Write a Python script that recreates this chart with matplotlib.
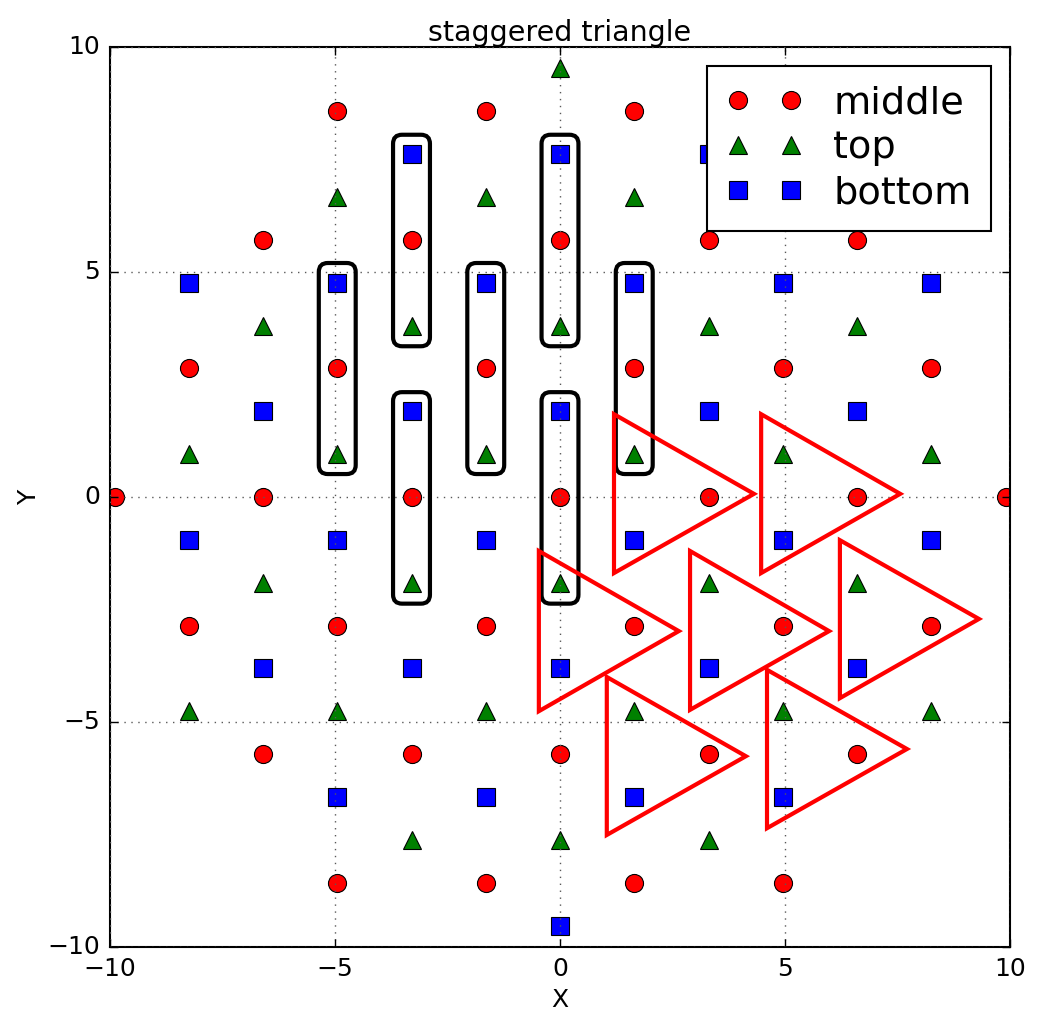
import matplotlib
matplotlib.use("Agg")
import matplotlib.pyplot as plt
from matplotlib.patches import FancyBboxPatch, Polygon

# lattice points
middle_x = [-9.9, -6.6, -3.3, 0, 3.3, 6.6, 9.9,
            -8.25, -4.95, -1.65, 1.65, 4.95, 8.25,
            -8.25, -4.95, -1.65, 1.65, 4.95, 8.25,
            -6.6, -3.3, 0, 3.3, 6.6,
            -6.6, -3.3, 0, 3.3, 6.6,
            -4.95, -1.65, 1.65, 4.95,
            -4.95, -1.65, 1.65, 4.95]
middle_y = [0] * 7 + [2.86] * 6 + [-2.86] * 6 + [5.72] * 5 + [-5.72] * 5 + [8.57] * 4 + [-8.57] * 4

top_x = [-6.6, -3.3, 0, 3.3, 6.6,
         -8.25, -4.95, -1.65, 1.65, 4.95, 8.25,
         -8.25, -4.95, -1.65, 1.65, 4.95, 8.25,
         -6.6, -3.3, 0, 3.3, 6.6,
         -3.3, 0, 3.3,
         -4.95, -1.65, 1.65, 4.95,
         0]
top_y = [-1.91] * 5 + [0.95] * 6 + [-4.76] * 6 + [3.81] * 5 + [-7.62] * 3 + [6.67] * 4 + [9.53]

bottom_x = [-6.6, -3.3, 0, 3.3, 6.6,
            -8.25, -4.95, -1.65, 1.65, 4.95, 8.25,
            -8.25, -4.95, -1.65, 1.65, 4.95, 8.25,
            -6.6, -3.3, 0, 3.3, 6.6,
            -3.3, 0, 3.3,
            -4.95, -1.65, 1.65, 4.95,
            0]
bottom_y = [1.91] * 5 + [-0.95] * 6 + [4.76] * 6 + [-3.81] * 5 + [7.62] * 3 + [-6.67] * 4 + [-9.53]

# black rounded boxes: column x, y low, y high
box_x = [-4.95, -3.3, -3.3, -1.65, 0, 0, 1.65]
box_ylo = [0.51, 3.35, -2.37, 0.51, 3.35, -2.37, 0.51]
box_yhi = [5.2, 8.05, 2.33, 5.2, 8.05, 2.33, 5.2]
box_halfw = 0.41

# red triangles: left edge x, top y, bottom y, tip x, tip y
tri_left = [1.2, 4.47, -0.47, 2.89, 6.22, 1.04, 4.6]
tri_top = [1.84, 1.84, -1.2, -1.2, -0.96, -4.0, -3.84]
tri_bot = [-1.69, -1.69, -4.76, -4.73, -4.47, -7.51, -7.36]
tri_tipx = [4.31, 7.56, 2.64, 5.98, 9.31, 4.13, 7.71]
tri_tipy = [0.07, 0.07, -2.98, -2.98, -2.71, -5.76, -5.6]

plt.style.use("classic")
plt.rcParams["font.family"] = "DejaVu Sans"
plt.rcParams["xtick.major.size"] = 6
plt.rcParams["ytick.major.size"] = 6
plt.rcParams["xtick.major.pad"] = 7
plt.rcParams["ytick.major.pad"] = 7

fig = plt.figure(figsize=(10.4, 10.27), dpi=100, facecolor="white")
ax = fig.add_axes([110 / 1040, 80 / 1027, 900 / 1040, 900 / 1027])

ms = 13
ax.plot(middle_x, middle_y, "ro", ms=ms, mew=0.8, label="middle")
ax.plot(top_x, top_y, "g^", ms=ms, mew=0.8, label="top")
ax.plot(bottom_x, bottom_y, "bs", ms=ms, mew=0.8, label="bottom")

for x, lo, hi in zip(box_x, box_ylo, box_yhi):
    ax.add_patch(FancyBboxPatch((x - box_halfw, lo), 2 * box_halfw, hi - lo,
                                boxstyle="round,pad=0,rounding_size=0.2",
                                fc="none", ec="k", lw=3, zorder=3))

for l, t, b, tx, ty in zip(tri_left, tri_top, tri_bot, tri_tipx, tri_tipy):
    ax.add_patch(Polygon([(l, t), (tx, ty), (l, b)], closed=True, fill=False,
                         ec="red", lw=3, joinstyle="miter", zorder=4))

ax.set_xlim(-10, 10)
ax.set_ylim(-10, 10)
ax.set_xticks([-10, -5, 0, 5, 10])
ax.set_yticks([-10, -5, 0, 5, 10])
ax.tick_params(labelsize=18, width=1)
for s in ax.spines.values():
    s.set_linewidth(1.5)
ax.grid(True, color="0.35", linewidth=1.0, linestyle=(0, (1, 4)))
ax.set_xlabel("X", fontsize=18)
ax.set_ylabel("Y", fontsize=18)
ax.set_title("staggered triangle", fontsize=20.5, pad=4)

leg = ax.legend(loc="upper right", numpoints=2, fontsize=27.5,
                labelspacing=0.24, borderpad=0.5)
leg.get_frame().set_linewidth(1.5)
leg.set_zorder(10)

fig.savefig("out.png", dpi=100, facecolor="white")
